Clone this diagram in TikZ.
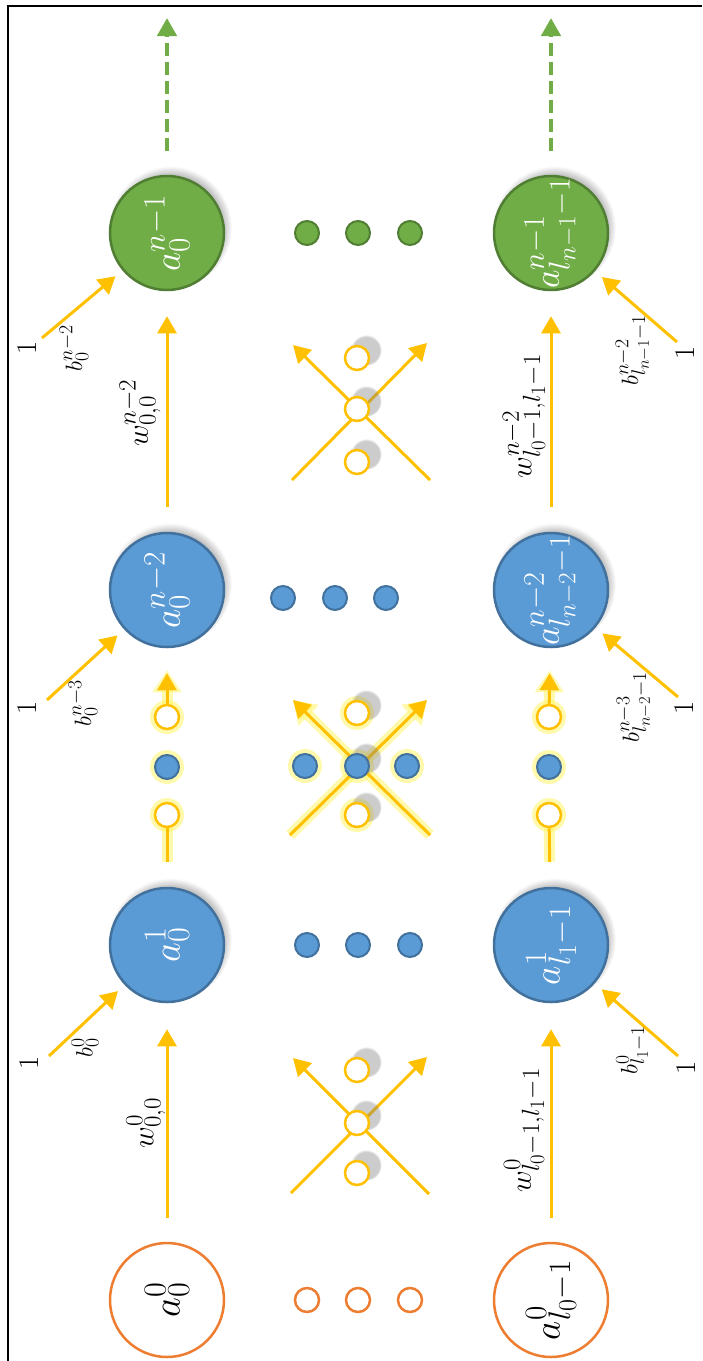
\documentclass[tikz,border=0pt]{standalone}
\usepackage{graphicx}
\usetikzlibrary{arrows.meta,shadows}
\definecolor{gold}{HTML}{FFC000}
\definecolor{orng}{HTML}{ED7D31}
\definecolor{bfill}{HTML}{5B9BD5}
\definecolor{bline}{HTML}{41719C}
\definecolor{gfill}{HTML}{70AD47}
\definecolor{gline}{HTML}{507E32}
\definecolor{halo}{HTML}{FFF45C}
\newcommand{\mysx}[2]{\scalebox{#1}{\Huge #2}}
\pgfdeclarelayer{bg}
\pgfsetlayers{bg,main}
\tikzset{
 big/.style={circle, minimum size=114pt, inner sep=0pt, line width=2.5pt},
 innode/.style={big, draw=orng, fill=white},
 hidnode/.style={big, draw=bline, fill=bfill, text=white, circular drop shadow={shadow xshift=3pt, shadow yshift=5pt, opacity=0.5, shadow scale=1.08}},
 outnode/.style={big, draw=gline, fill=gfill, text=white, circular drop shadow={shadow xshift=3pt, shadow yshift=5pt, opacity=0.5, shadow scale=1.08}},
 dotnode/.style={circle, minimum size=24pt, inner sep=0pt, line width=2pt},
 odot/.style={dotnode, draw=orng, fill=white, line width=2.5pt},
 bdot/.style={dotnode, draw=bline, fill=bfill},
 gdot/.style={dotnode, draw=gline, fill=gfill},
 wdot/.style={dotnode, draw=gold, fill=white, line width=2.5pt},
 sdot/.style={wdot, circular drop shadow={shadow xshift=7pt, shadow yshift=6pt, opacity=0.4, shadow scale=1.3}},
 sbdot/.style={bdot, circular drop shadow={shadow xshift=7pt, shadow yshift=6pt, opacity=0.4, shadow scale=1.3}},
 wire/.style={draw=gold, line width=3pt},
 arr/.style={wire, -{Triangle[length=17pt,width=19pt]}},
 dasharr/.style={draw=gfill, line width=4.5pt, dash pattern=on 13pt off 6pt, -{Triangle[length=18pt,width=19pt]}},
 glowln/.style={draw=halo, line width=11pt, opacity=0.5},
 glowarr/.style={draw=halo, line width=11pt, opacity=0.5, -{Triangle[length=22pt,width=28pt]}},
 lbl/.style={rotate=90, inner sep=0pt},
}
\begin{document}
\begin{tikzpicture}[x=1pt,y=-1pt]
\path[use as bounding box] (0,0) rectangle (702,1361);
\draw[line width=1.6pt] (8,1361) -- (8,6) -- (702,6);

% input layer
\node[innode] (in0) at (167,1300) {};
\node[innode] (in1) at (551,1300) {};
\node[odot] (od1) at (307,1300) {};
\node[odot] (od2) at (358,1300) {};
\node[odot] (od3) at (410,1300) {};

% hidden layer 1
\node[hidnode] (h10) at (167,945) {};
\node[hidnode] (h11) at (551,945) {};
\node[bdot] (hd1) at (307,945) {};
\node[bdot] (hd2) at (358,945) {};
\node[bdot] (hd3) at (410,945) {};

% hidden layer n-2
\node[hidnode] (hn0) at (167,590) {};
\node[hidnode] (hn1) at (551,590) {};
\node[bdot] (nd1) at (283,598) {};
\node[bdot] (nd2) at (335,598) {};
\node[bdot] (nd3) at (386,598) {};

% output layer
\node[outnode] (g0) at (167,233) {};
\node[outnode] (g1) at (551,233) {};
\node[gdot] (gd1) at (307,233) {};
\node[gdot] (gd2) at (358,233) {};
\node[gdot] (gd3) at (410,233) {};

% node texts
\node[lbl] (t00) at (in0) {\mysx{1.55}{$a_{0}^{0}$}};
\node[lbl] (t01) at (in1) {\mysx{1.5}{$a_{l_0-1}^{0}$}};
\node[lbl, text=white] (t10) at (h10) {\mysx{1.55}{$a_{0}^{1}$}};
\node[lbl, text=white] (t11) at (h11) {\mysx{1.5}{$a_{l_1-1}^{1}$}};
\node[lbl, text=white] (tn0) at (hn0) {\mysx{1.5}{$a_{0}^{n-2}$}};
\node[lbl, text=white] (tn1) at (hn1) {\mysx{1.45}{$a_{l_{n-2}-1}^{n-2}$}};
\node[lbl, text=white] (tg0) at (g0) {\mysx{1.5}{$a_{0}^{n-1}$}};
\node[lbl, text=white] (tg1) at (g1) {\mysx{1.45}{$a_{l_{n-1}-1}^{n-1}$}};

% lower crossing
\coordinate (xa1) at (291,1193); \coordinate (xa2) at (427,1057);
\coordinate (xb1) at (429,1194); \coordinate (xb2) at (293,1058);
\node[sdot] (lx1) at (357,1070) {};
\node[sdot] (lx2) at (357,1123) {};
\node[sdot] (lx3) at (357,1173) {};

% upper crossing
\coordinate (ya1) at (292,480); \coordinate (ya2) at (427,343);
\coordinate (yb1) at (430,480); \coordinate (yb2) at (293,345);
\node[sdot] (ux1) at (357,358) {};
\node[sdot] (ux2) at (357,409) {};
\node[sdot] (ux3) at (357,462) {};

% glowing band
\coordinate (za1) at (290,835); \coordinate (za2) at (427,700);
\coordinate (zb1) at (430,835); \coordinate (zb2) at (293,700);
\begin{pgfonlayer}{bg}
\foreach \p in {(167,815),(167,767),(167,717),(549,815),(549,767),(549,717),(357,713),(305,766),(357,766),(407,766),(357,815)}
  \fill[halo, opacity=0.5] \p circle (17pt);
\end{pgfonlayer}
\node[wdot] (lc1) at (167,815) {};
\node[bdot] (lc2) at (167,767) {};
\node[wdot] (lc3) at (167,717) {};
\node[wdot] (rc1) at (549,815) {};
\node[bdot] (rc2) at (549,767) {};
\node[wdot] (rc3) at (549,717) {};
\node[sdot] (mc1) at (357,713) {};
\node[bdot] (mb1) at (305,766) {};
\node[sbdot] (mb2) at (357,766) {};
\node[bdot] (mb3) at (407,766) {};
\node[sdot] (mc2) at (357,815) {};

% bias start points
\coordinate (bs10) at (49,1056);
\coordinate (bs11) at (678,1056);
\coordinate (bsn0) at (47,700);
\coordinate (bsn1) at (678,697);
\coordinate (bsg0) at (42,338);
\coordinate (bsg1) at (677,342);
\coordinate (top0) at (167,18);
\coordinate (top1) at (551,18);

\begin{pgfonlayer}{bg}
 % glow halos
 \draw[glowarr] (za1) -- (za2);
 \draw[glowarr] (zb1) -- (zb2);
 \draw[glowln, shorten <=25pt] (h10) -- (lc1);
 \draw[glowln, shorten <=25pt] (h11) -- (rc1);
 \draw[glowarr, shorten >=22pt] (lc3) -- (hn0);
 \draw[glowarr, shorten >=22pt] (rc3) -- (hn1);
 % wires
 \draw[arr, shorten <=24pt, shorten >=26pt] (in0) -- (h10);
 \draw[arr, shorten <=24pt, shorten >=26pt] (in1) -- (h11);
 \draw[arr] (xa1) -- (xa2);
 \draw[arr] (xb1) -- (xb2);
 \draw[arr, shorten >=9pt] (bs10) -- (h10);
 \draw[arr, shorten >=9pt] (bs11) -- (h11);
 \draw[wire, shorten <=25pt] (h10) -- (lc1);
 \draw[wire, shorten <=25pt] (h11) -- (rc1);
 \draw[arr, shorten >=25pt] (lc3) -- (hn0);
 \draw[arr, shorten >=25pt] (rc3) -- (hn1);
 \draw[arr] (za1) -- (za2);
 \draw[arr] (zb1) -- (zb2);
 \draw[arr, shorten >=9pt] (bsn0) -- (hn0);
 \draw[arr, shorten >=9pt] (bsn1) -- (hn1);
 \draw[arr, shorten <=25pt, shorten >=25pt] (hn0) -- (g0);
 \draw[arr, shorten <=25pt, shorten >=25pt] (hn1) -- (g1);
 \draw[arr] (ya1) -- (ya2);
 \draw[arr] (yb1) -- (yb2);
 \draw[arr, shorten >=9pt] (bsg0) -- (g0);
 \draw[arr, shorten >=9pt] (bsg1) -- (g1);
 \draw[dasharr, shorten <=24pt] (g0) -- (top0);
 \draw[dasharr, shorten <=24pt] (g1) -- (top1);
\end{pgfonlayer}

% labels
\node[lbl] (w0l) at (146,1123) {\mysx{1.2}{$w_{0,0}^{0}$}};
\node[lbl] (w0r) at (524,1130) {\mysx{1.2}{$w_{l_0-1,l_1-1}^{0}$}};
\node[lbl] (wnl) at (140,413) {\mysx{1.2}{$w_{0,0}^{n-2}$}};
\node[lbl] (wnr) at (524,416) {\mysx{1.2}{$w_{l_0-1,l_1-1}^{n-2}$}};

\node[lbl] (o1) at (29,1063) {\mysx{1.15}{1}};
\node[lbl] (o2) at (686,1068) {\mysx{1.15}{1}};
\node[lbl] (o3) at (27,708) {\mysx{1.15}{1}};
\node[lbl] (o4) at (684,708) {\mysx{1.15}{1}};
\node[lbl] (o5) at (27,348) {\mysx{1.15}{1}};
\node[lbl] (o6) at (685,353) {\mysx{1.15}{1}};

\node[lbl] (b1) at (85,1048) {\mysx{0.95}{$b_{0}^{0}$}};
\node[lbl] (b2) at (632,1050) {\mysx{0.95}{$b_{l_1-1}^{0}$}};
\node[lbl] (b3) at (83,703) {\mysx{0.95}{$b_{0}^{n-3}$}};
\node[lbl] (b4) at (634,707) {\mysx{0.95}{$b_{l_{n-2}-1}^{n-3}$}};
\node[lbl] (b5) at (74,348) {\mysx{0.95}{$b_{0}^{n-2}$}};
\node[lbl] (b6) at (633,350) {\mysx{0.95}{$b_{l_{n-1}-1}^{n-2}$}};
\end{tikzpicture}
\end{document}
